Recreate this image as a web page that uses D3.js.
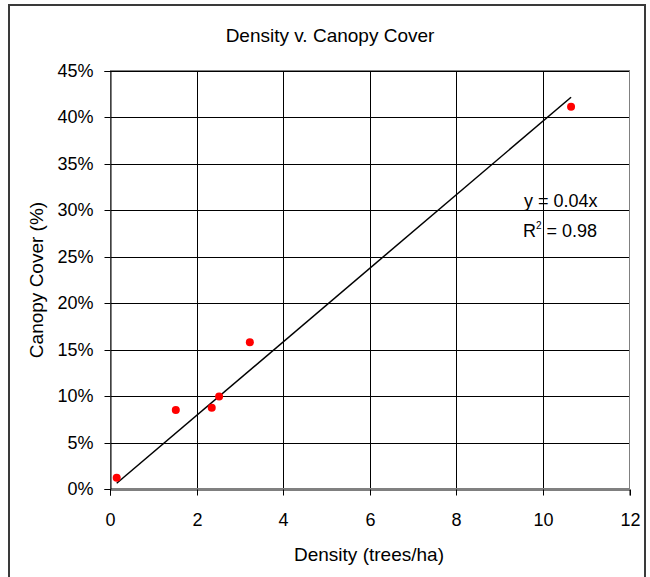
<!DOCTYPE html>
<html>
<head>
<meta charset="utf-8">
<script src="https://cdn.jsdelivr.net/npm/d3@7"></script>
<style>
    body { margin: 0; background: #fff; }
    text { font-family: "Liberation Sans", Arial, sans-serif; fill: #000; }
</style>
</head>
<body>
<svg id="chart" width="650" height="577"></svg>
<script>
// Data
const density = [0.155, 1.52, 2.35, 2.52, 3.23, 10.65]
const canopyCover = [0.012, 0.085, 0.0875, 0.0995, 0.158, 0.4115]
const xTicks = [0, 2, 4, 6, 8, 10, 12]
const yTicks = [0, 0.05, 0.10, 0.15, 0.20, 0.25, 0.30, 0.35, 0.40, 0.45]
const trendSlope = 0.0396
const trendLabels = ["y = 0.04x", "R", "2", " = 0.98"]

const svg = d3.select("#chart")
const plot = {left: 110, right: 629.5, top: 71, bottom: 489}
const fontSize = 18
const titleSize = 19

// Outer chart border
svg.append("rect")
    .attr("x", 9).attr("y", 5)
    .attr("width", 636).attr("height", 580)
    .attr("fill", "none")
    .attr("stroke", "#3a3a3a")
    .attr("stroke-width", 2)

let xScale = d3.scaleLinear().domain([0, 12]).range([plot.left, plot.right])
let yScale = d3.scaleLinear().domain([0, 0.45]).range([plot.bottom, plot.top])

// Gridlines
svg.append("g")
    .selectAll("line.hgrid")
    .data(yTicks.slice(1))
    .enter().append("line")
    .attr("x1", plot.left).attr("x2", plot.right)
    .attr("y1", d => Math.round(yScale(d)) + 0.5)
    .attr("y2", d => Math.round(yScale(d)) + 0.5)
    .attr("stroke", "#000")

svg.append("g")
    .selectAll("line.vgrid")
    .data(xTicks.slice(1, -1))
    .enter().append("line")
    .attr("y1", plot.top).attr("y2", plot.bottom)
    .attr("x1", d => Math.round(xScale(d)) + 0.5)
    .attr("x2", d => Math.round(xScale(d)) + 0.5)
    .attr("stroke", "#000")

// Plot area border
svg.append("rect")
    .attr("x", plot.left + 0.5).attr("y", plot.top - 0.5)
    .attr("width", plot.right - plot.left - 0.5)
    .attr("height", plot.bottom - plot.top)
    .attr("fill", "none")
    .attr("stroke", "#808080")

// Axes
let xAxis = svg.append("g")
    .attr("transform", `translate(0,${plot.bottom + 0.5})`)
    .call(d3.axisBottom(xScale).tickValues(xTicks).tickSize(6).tickPadding(18))
let yAxis = svg.append("g")
    .attr("transform", `translate(${plot.left + 0.5},0)`)
    .call(d3.axisLeft(yScale).tickValues(yTicks).tickFormat(d3.format(".0%")).tickSize(6).tickPadding(11))

for (const ax of [xAxis, yAxis]) {
    ax.select(".domain").attr("stroke", "#000")
    ax.selectAll(".tick line").attr("stroke", "#000")
    ax.selectAll(".tick text")
        .style("font-family", '"Liberation Sans", Arial, sans-serif')
        .style("font-size", fontSize + "px")
        .attr("fill", "#000")
}
// snap tick lines to pixels
xAxis.selectAll(".tick").attr("transform", d => `translate(${Math.round(xScale(d)) + 0.5},0)`)
yAxis.selectAll(".tick").attr("transform", d => `translate(0,${Math.round(yScale(d)) + 0.5})`)

// Trendline through origin
let xMin = d3.min(density), xMax = d3.max(density)
svg.append("line")
    .attr("x1", xScale(xMin)).attr("y1", yScale(trendSlope * xMin))
    .attr("x2", xScale(xMax)).attr("y2", yScale(trendSlope * xMax))
    .attr("stroke", "#000")
    .attr("stroke-width", 1.5)

// Points
svg.append("g")
    .selectAll("circle")
    .data(density.map((d, i) => ({x: d, y: canopyCover[i]})))
    .enter().append("circle")
    .attr("cx", d => xScale(d.x))
    .attr("cy", d => yScale(d.y))
    .attr("r", 4)
    .attr("fill", "#ff0000")

// Trendline labels
svg.append("text")
    .attr("x", 524).attr("y", 207)
    .style("font-size", fontSize + "px")
    .text(trendLabels[0])
let r2 = svg.append("text")
    .attr("x", 523).attr("y", 237)
    .style("font-size", fontSize + "px")
r2.append("tspan").text(trendLabels[1])
r2.append("tspan").attr("dy", -8).style("font-size", "10px").text(trendLabels[2])
r2.append("tspan").attr("dy", 8).text(trendLabels[3])

// Titles
svg.append("text")
    .attr("x", 330).attr("y", 42)
    .attr("text-anchor", "middle")
    .style("font-size", titleSize + "px")
    .text("Density v. Canopy Cover")

svg.append("text")
    .attr("x", 369).attr("y", 561)
    .attr("text-anchor", "middle")
    .style("font-size", titleSize + "px")
    .text("Density (trees/ha)")

svg.append("text")
    .attr("transform", `translate(43,${(plot.top + plot.bottom) / 2}) rotate(-90)`)
    .attr("text-anchor", "middle")
    .style("font-size", titleSize + "px")
    .text("Canopy Cover (%)")
</script>
</body>
</html>
